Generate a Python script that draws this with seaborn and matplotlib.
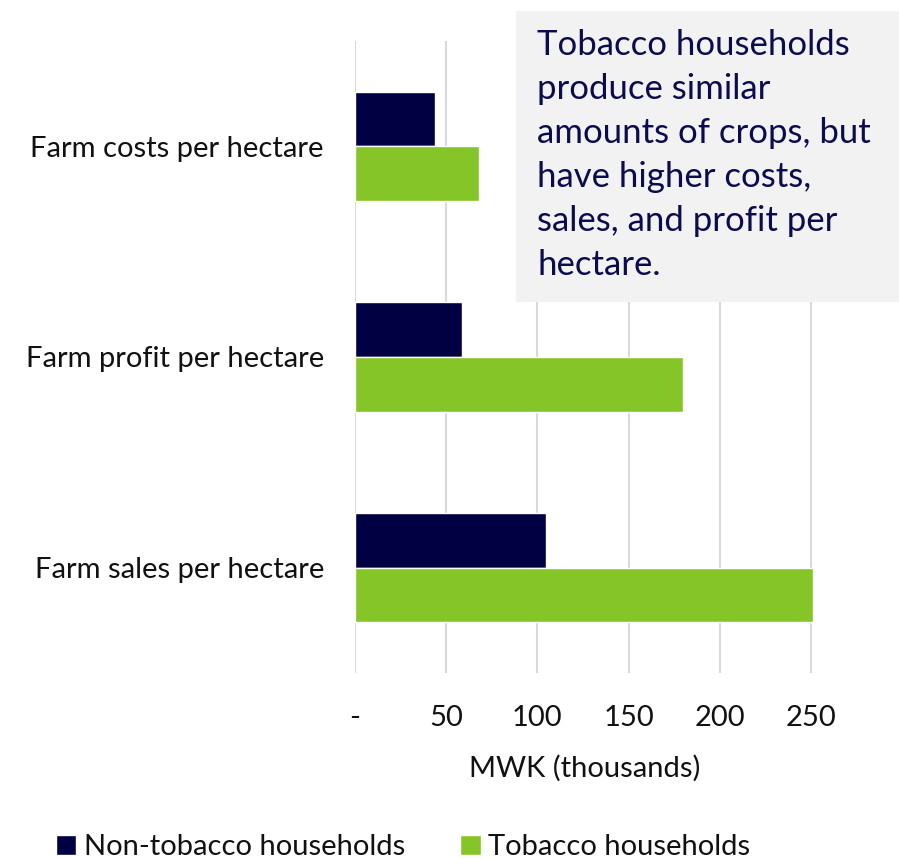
import pandas as pd
import matplotlib
matplotlib.use("Agg")
import matplotlib.pyplot as plt
import seaborn as sns
from matplotlib.patches import Rectangle

# data (MWK thousands)
categories = ["Farm costs per hectare", "Farm profit per hectare", "Farm sales per hectare"]
non_tobacco = [44, 59, 105]
tobacco = [68, 180, 251]
series = ["Non-tobacco households", "Tobacco households"]
xticks = [0, 50, 100, 150, 200, 250]
xtick_labels = ["-", "50", "100", "150", "200", "250"]

colors = ["#000042", "#86C527"]
text_col = "#0B0B4E"

df = pd.DataFrame({
    "category": categories * 2,
    "value": non_tobacco + tobacco,
    "series": [series[0]] * 3 + [series[1]] * 3,
})

sns.set_style("white")
plt.rcParams["font.family"] = ["Lato", "DejaVu Sans"]

W, H = 899, 859
fig = plt.figure(figsize=(W / 100, H / 100), dpi=100)
ax = fig.add_axes([354.5 / W, (H - 673) / H, (814 - 354.5) / W, (673 - 41) / H])

sns.barplot(data=df, y="category", x="value", hue="series", palette=colors,
            orient="h", width=0.52, gap=0, saturation=1, ax=ax, legend=True)

ax.set_xlim(0, 251.5)
ax.set_ylim(2.5, -0.5)
ax.set_xticks(xticks)
ax.set_xticklabels(xtick_labels, fontsize=21, color="#111111")
ax.tick_params(axis="x", length=0, pad=23)
ax.tick_params(axis="y", length=0, pad=22, labelsize=21, labelcolor="#111111")
ax.set_ylabel("")
ax.set_xlabel("MWK (thousands)", fontsize=21, color="#111111", labelpad=17)
ax.grid(axis="x", color="#D9D9D9", lw=1.5)
ax.set_axisbelow(True)
sns.despine(ax=ax, left=True, bottom=True)

handles, labels = ax.get_legend_handles_labels()
ax.legend_.remove()
fig.legend(handles, labels, loc="center", bbox_to_anchor=(403 / W, 1 - 847 / H),
           ncol=2, frameon=False, fontsize=21, handlelength=0.7, handleheight=0.7,
           handletextpad=0.25, columnspacing=1.9, labelcolor="#111111")

# annotation box
box = Rectangle((516 / W, 1 - 302 / H), (W - 516) / W, (302 - 11) / H,
                transform=fig.transFigure, facecolor="#F2F2F2", edgecolor="none", zorder=10)
fig.add_artist(box)
note = ("Tobacco households\nproduce similar\namounts of crops, but\n"
        "have higher costs,\nsales, and profit per\nhectare.")
fig.text(537 / W, 1 - 29 / H, note, fontsize=25, color=text_col, va="top", ha="left",
         linespacing=1.46, zorder=11)

fig.savefig("out.png", dpi=100)
